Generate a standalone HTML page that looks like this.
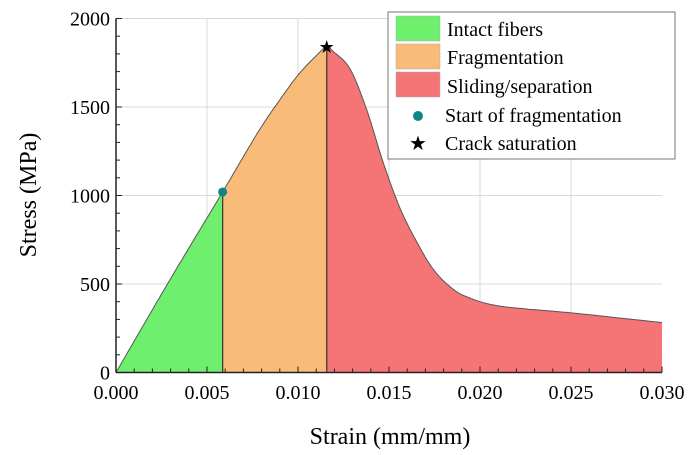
<!DOCTYPE html>
<html><head><meta charset="utf-8"><style>
html,body{margin:0;padding:0;background:#fff;}
svg{display:block;font-family:"Liberation Serif",serif;}
</style></head><body>
<svg id="chart" width="695" height="455" viewBox="0 0 695 455">
<g id="grid"></g>
<g id="areas"></g>
<g id="axes"></g>
<text x="390" y="444" font-size="24" text-anchor="middle">Strain (mm/mm)</text>
<text transform="translate(36,195) rotate(-90)" font-size="24" text-anchor="middle">Stress (MPa)</text>
<g id="legend">
<rect x="388" y="12" width="287" height="147" fill="#fff" stroke="#777" stroke-width="1"/>
<g><rect x="396" y="16" width="44" height="25" fill="#6eef6e" stroke="#aaa" stroke-width="0.5"/><text x="447" y="36" font-size="20">Intact fibers</text></g>
<g><rect x="396" y="44" width="44" height="25" fill="#f9bb78" stroke="#aaa" stroke-width="0.5"/><text x="447" y="64" font-size="20">Fragmentation</text></g>
<g><rect x="396" y="72" width="44" height="25" fill="#f57475" stroke="#aaa" stroke-width="0.5"/><text x="447" y="93" font-size="20">Sliding/separation</text></g>
<g><circle cx="418" cy="116" r="5" fill="#0f8585"/><text x="445" y="122" font-size="20">Start of fragmentation</text></g>
<g><text x="418" y="150" font-size="20" text-anchor="middle">★</text><text x="445" y="150" font-size="20">Crack saturation</text></g>
</g>
</svg>
<script>
const strain=[0,0.003,0.00586,0.007,0.008,0.009,0.010,0.011,0.01158,0.01192,0.01286,0.01379,0.01467,0.0156,0.01654,0.01742,0.01835,0.01929,0.0211,0.025,0.030];
const stress=[0,530,1020,1220,1390,1540,1680,1790,1840,1815,1715,1480,1190,930,735,585,485,427,375,337,282];
const xTicks=[0,0.005,0.010,0.015,0.020,0.025,0.030];
const xTickLabels=["0.000","0.005","0.010","0.015","0.020","0.025","0.030"];
const yTicks=[0,500,1000,1500,2000];
const startFrag=[0.00586,1020];
const crackSat=[0.01158,1840];
const X0=116,X1=662,Y0=372.5,Y1=18.5;
const sx=v=>X0+(v/0.030)*(X1-X0);
const sy=v=>Y0-(v/2000)*(Y0-Y1);
const NS="http://www.w3.org/2000/svg";
function mk(tag,attrs,parent){const e=document.createElementNS(NS,tag);for(const k in attrs)e.setAttribute(k,attrs[k]);parent.appendChild(e);return e;}
const pts=strain.map((s,i)=>[sx(s),sy(stress[i])]);
const dense=[];
for(let i=0;i<pts.length-1;i++){
 const p0=pts[Math.max(0,i-1)],p1=pts[i],p2=pts[i+1],p3=pts[Math.min(pts.length-1,i+2)];
 for(let t=0;t<1;t+=0.05){
  const t2=t*t,t3=t2*t;
  const f=(a,b,c,d)=>0.5*((2*b)+(-a+c)*t+(2*a-5*b+4*c-d)*t2+(-a+3*b-3*c+d)*t3);
  dense.push([f(p0[0],p1[0],p2[0],p3[0]),f(p0[1],p1[1],p2[1],p3[1])]);
 }
}
dense.push(pts[pts.length-1]);
function region(xa,xb){
 const seg=dense.filter(p=>p[0]>=xa-0.01&&p[0]<=xb+0.01);
 let d=`M${xa},${Y0} `;
 seg.forEach(p=>d+=`L${p[0].toFixed(1)},${p[1].toFixed(1)} `);
 d+=`L${xb},${Y0} Z`;return d;
}
const grid=document.getElementById('grid'),areas=document.getElementById('areas'),axes=document.getElementById('axes');
xTicks.slice(1,-1).forEach(v=>{const l=mk('line',{x1:sx(v),x2:sx(v),y1:Y1,y2:Y0,stroke:'#d8d8d8','stroke-width':1},grid);
});
yTicks.slice(1).forEach(v=>{const l=mk('line',{x1:X0,x2:X1,y1:sy(v),y2:sy(v),stroke:'#d8d8d8','stroke-width':1},grid);
});
const xs=sx(startFrag[0]),xc=sx(crackSat[0]);
const a1=mk('path',{d:region(X0,xs),fill:'#6eef6e'},areas);
const a2=mk('path',{d:region(xs,xc),fill:'#f9bb78'},areas);
const a3=mk('path',{d:region(xc,X1),fill:'#f57475'},areas);
const cl=mk('path',{d:'M'+dense.map(p=>p[0].toFixed(1)+','+p[1].toFixed(1)).join(' L'),fill:'none',stroke:'#555','stroke-width':1},areas);

[[xs,sy(startFrag[1])],[xc,sy(crackSat[1])]].forEach(([x,y])=>{const l=mk('line',{x1:x,x2:x,y1:y,y2:Y0,stroke:'#333','stroke-width':1.2},areas);
});
const dot=mk('circle',{cx:xs,cy:sy(startFrag[1]),r:4.5,fill:'#0f8585'},areas);
const st=mk('text',{x:xc,y:sy(crackSat[1])+6,'font-size':18,'text-anchor':'middle'},areas);st.textContent='★';

const ax=mk('line',{x1:X0,x2:X1,y1:Y0,y2:Y0,stroke:'#222','stroke-width':1.5},axes);
const ay=mk('line',{x1:X0,x2:X0,y1:Y1,y2:Y0,stroke:'#222','stroke-width':1.5},axes);
for(let v=0;v<=0.0300001;v+=0.001){const major=Math.abs(v/0.005-Math.round(v/0.005))<1e-6;
 const t=mk('line',{x1:sx(v),x2:sx(v),y1:Y0,y2:Y0-(major?6:4),stroke:'#222','stroke-width':1},axes);
 }
for(let v=0;v<=2000;v+=100){const major=v%500===0;
 const t=mk('line',{x1:X0,x2:X0+(major?6:4),y1:sy(v),y2:sy(v),stroke:'#222','stroke-width':1},axes);
 }
xTicks.forEach((v,i)=>{const t=mk('text',{x:sx(v),y:399,'font-size':20,'text-anchor':'middle'},axes);t.textContent=xTickLabels[i];
 });
yTicks.forEach(v=>{const t=mk('text',{x:X0-6,y:sy(v)+7,'font-size':20,'text-anchor':'end'},axes);t.textContent=String(v);
 });
</script>
</body></html>
